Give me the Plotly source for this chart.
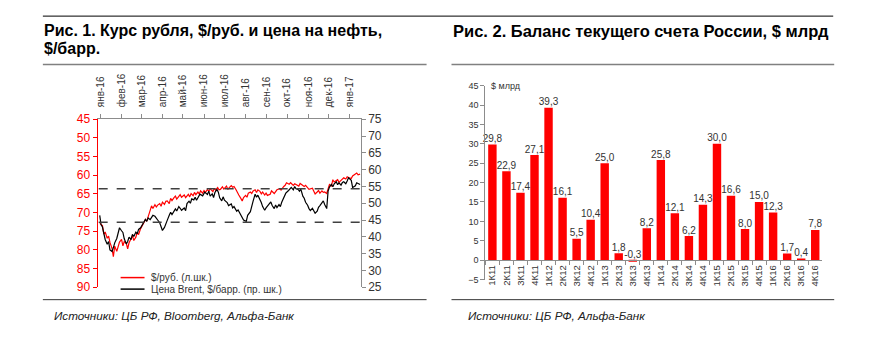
import plotly.graph_objects as go

W, H = 896, 346
def px(x): return x / W
def py(y): return 1 - y / H

# ---------------- Data: Fig. 1 ----------------
rub_dates = ["2015-12-31","2016-01-04","2016-01-06","2016-01-08","2016-01-11","2016-01-13","2016-01-15","2016-01-18","2016-01-20","2016-01-22",
"2016-01-25","2016-01-27","2016-01-29","2016-02-01","2016-02-03","2016-02-05","2016-02-08","2016-02-10","2016-02-12","2016-02-15",
"2016-02-17","2016-02-19","2016-02-22","2016-02-24","2016-02-26","2016-02-29","2016-03-02","2016-03-04","2016-03-07","2016-03-09",
"2016-03-11","2016-03-14","2016-03-16","2016-03-18","2016-03-21","2016-03-23","2016-03-25","2016-03-28","2016-03-30","2016-04-01",
"2016-04-04","2016-04-06","2016-04-08","2016-04-11","2016-04-13","2016-04-15","2016-04-18","2016-04-20","2016-04-22","2016-04-25",
"2016-04-27","2016-04-29","2016-05-03","2016-05-05","2016-05-09","2016-05-11","2016-05-13","2016-05-16","2016-05-18","2016-05-20",
"2016-05-23","2016-05-25","2016-05-27","2016-05-30","2016-06-01","2016-06-03","2016-06-06","2016-06-08","2016-06-10","2016-06-14",
"2016-06-16","2016-06-18","2016-06-21","2016-06-23","2016-06-25","2016-06-28","2016-06-30","2016-07-04","2016-07-06","2016-07-08",
"2016-07-11","2016-07-13","2016-07-15","2016-07-18","2016-07-20","2016-07-22","2016-07-25","2016-07-27","2016-07-29","2016-08-01",
"2016-08-03","2016-08-05","2016-08-08","2016-08-10","2016-08-12","2016-08-15","2016-08-17","2016-08-19","2016-08-22","2016-08-24",
"2016-08-26","2016-08-29","2016-08-31","2016-09-02","2016-09-06","2016-09-08","2016-09-12","2016-09-14","2016-09-16","2016-09-20",
"2016-09-22","2016-09-26","2016-09-28","2016-09-30","2016-10-04","2016-10-06","2016-10-10","2016-10-12","2016-10-14","2016-10-18",
"2016-10-20","2016-10-24","2016-10-26","2016-10-28","2016-10-31","2016-11-02","2016-11-07","2016-11-09","2016-11-11","2016-11-14",
"2016-11-16","2016-11-18","2016-11-21","2016-11-23","2016-11-25","2016-11-28","2016-11-30","2016-12-02","2016-12-05","2016-12-07",
"2016-12-09","2016-12-12","2016-12-14","2016-12-16","2016-12-19","2016-12-21","2016-12-23","2016-12-26","2016-12-28","2016-12-30",
"2017-01-03","2017-01-05","2017-01-09","2017-01-11","2017-01-13","2017-01-16"]
rub_values = [72.9,73.5,75.8,75.2,76.9,76.3,78.0,79.6,81.8,79.0,
80.4,78.7,77.9,77.2,78.9,77.8,78.3,79.7,78.1,77.0,
76.2,77.5,76.6,75.3,75.9,74.3,73.5,72.9,71.9,72.3,
70.9,69.4,68.2,68.9,67.9,68.5,68.0,67.6,68.3,67.2,
67.8,67.0,66.9,67.6,66.2,66.8,66.0,65.6,66.4,65.7,
65.2,65.9,65.3,66.0,65.1,65.8,64.9,65.5,64.6,65.2,
64.5,65.0,64.2,64.8,64.1,64.6,63.8,64.3,63.6,64.4,
63.5,64.0,63.3,63.9,63.8,63.1,63.7,62.9,63.8,63.3,
62.8,63.2,63.0,63.9,64.7,65.3,66.2,66.9,66.0,65.4,
65.9,64.8,64.5,64.9,64.2,63.9,64.6,63.9,64.3,65.0,
64.5,65.3,64.8,65.4,65.1,64.2,64.9,64.4,63.9,63.6,
64.0,63.0,62.7,62.0,62.4,62.0,62.7,62.3,62.5,62.9,
62.2,62.6,63.0,62.7,63.3,63.8,63.5,64.2,65.0,64.5,
64.1,64.8,64.2,64.6,64.5,64.9,63.8,62.5,62.9,61.2,
61.8,61.5,61.2,61.9,61.3,60.9,60.7,61.0,60.4,60.6,
60.9,60.2,59.6,59.4,59.9,59.7]

brent_dates = ["2015-12-31","2016-01-02","2016-01-04","2016-01-06","2016-01-08","2016-01-11","2016-01-13","2016-01-15","2016-01-18","2016-01-20",
"2016-01-22","2016-01-25","2016-01-27","2016-01-29","2016-02-01","2016-02-03","2016-02-05","2016-02-08","2016-02-10","2016-02-12",
"2016-02-15","2016-02-17","2016-02-19","2016-02-22","2016-02-24","2016-02-26","2016-02-29","2016-03-02","2016-03-04","2016-03-07",
"2016-03-09","2016-03-11","2016-03-14","2016-03-16","2016-03-18","2016-03-21","2016-03-23","2016-03-25","2016-03-28","2016-03-30",
"2016-04-01","2016-04-04","2016-04-06","2016-04-08","2016-04-11","2016-04-13","2016-04-15","2016-04-18","2016-04-20","2016-04-22",
"2016-04-25","2016-04-27","2016-04-29","2016-05-03","2016-05-05","2016-05-07","2016-05-10","2016-05-12","2016-05-14","2016-05-17",
"2016-05-19","2016-05-21","2016-05-24","2016-05-26","2016-05-30","2016-06-02","2016-06-06","2016-06-08","2016-06-10","2016-06-13",
"2016-06-15","2016-06-17","2016-06-20","2016-06-22","2016-06-24","2016-06-27","2016-06-29","2016-07-01","2016-07-05","2016-07-07",
"2016-07-11","2016-07-13","2016-07-15","2016-07-19","2016-07-21","2016-07-25","2016-07-27","2016-07-29","2016-08-02","2016-08-04",
"2016-08-08","2016-08-10","2016-08-12","2016-08-15","2016-08-17","2016-08-19","2016-08-22","2016-08-24","2016-08-26","2016-08-29",
"2016-08-31","2016-09-02","2016-09-05","2016-09-07","2016-09-09","2016-09-12","2016-09-14","2016-09-16","2016-09-19","2016-09-21",
"2016-09-23","2016-09-27","2016-09-29","2016-10-03","2016-10-05","2016-10-07","2016-10-10","2016-10-12","2016-10-14","2016-10-17",
"2016-10-19","2016-10-21","2016-10-24","2016-10-26","2016-10-28","2016-10-31","2016-11-02","2016-11-04","2016-11-07","2016-11-09",
"2016-11-11","2016-11-14","2016-11-16","2016-11-18","2016-11-21","2016-11-23","2016-11-25","2016-11-28","2016-11-30","2016-12-02",
"2016-12-05","2016-12-07","2016-12-09","2016-12-12","2016-12-14","2016-12-16","2016-12-19","2016-12-21","2016-12-23","2016-12-26",
"2016-12-28","2016-12-30","2017-01-03","2017-01-05","2017-01-09","2017-01-11","2017-01-13","2017-01-16"]
brent_values = [46.4,43.6,42.9,40.5,39.2,37.8,38.6,36.1,35.6,36.8,
38.2,39.5,41.3,42.7,41.8,41.3,39.4,37.9,38.6,39.9,
39.2,40.7,40.1,41.4,40.9,42.2,42.7,43.5,44.1,45.2,
44.6,45.6,45.1,45.9,46.4,46.1,45.7,45.0,44.2,43.0,
41.9,42.8,43.6,44.9,46.4,47.3,46.6,47.6,48.3,47.7,
49.0,48.5,47.9,48.6,47.8,49.9,50.6,50.0,51.3,51.0,
51.8,50.9,51.9,52.7,52.2,53.3,52.6,53.6,52.1,52.8,
51.7,53.2,54.1,53.3,51.6,50.7,51.9,50.9,50.2,49.3,
49.8,48.6,49.0,47.6,48.0,46.6,45.5,45.0,44.6,46.4,
47.5,49.3,50.6,52.7,51.8,52.4,51.3,50.2,49.0,47.9,
48.6,49.2,49.9,50.4,49.3,48.4,49.5,48.7,49.6,49.0,
50.3,52.1,53.0,53.8,54.4,54.7,54.0,55.0,54.3,54.1,
53.6,54.2,52.1,51.5,50.3,49.4,48.4,47.8,48.5,47.6,
47.0,47.6,48.8,49.3,50.2,50.7,49.6,48.4,53.6,54.8,
55.6,54.9,55.8,56.4,55.5,56.1,55.4,56.2,56.4,55.8,
56.6,57.6,56.8,54.7,55.2,56.1,55.9,55.6]

month_ticks = ["2016-01-01","2016-02-01","2016-03-01","2016-04-01","2016-05-01","2016-06-01","2016-07-01",
               "2016-08-01","2016-09-01","2016-10-01","2016-11-01","2016-12-01","2017-01-01"]
month_labels = ["янв-16","фев-16","мар-16","апр-16","май-16","июн-16","июл-16",
                "авг-16","сен-16","окт-16","ноя-16","дек-16","янв-17"]
brent_ref_levels = [54.3, 44.3]

# ---------------- Data: Fig. 2 ----------------
quarters = ["1К11","2К11","3К11","4К11","1К12","2К12","3К12","4К12","1К13","2К13","3К13","4К13",
            "1К14","2К14","3К14","4К14","1К15","2К15","3К15","4К15","1К16","2К16","3К16","4К16"]
balance = [29.8,22.9,17.4,27.1,39.3,16.1,5.5,10.4,25.0,1.8,-0.3,8.2,
           25.8,12.1,6.2,14.3,30.0,16.6,8.0,15.0,12.3,1.7,0.4,7.8]

FONT = "Liberation Sans, Arial, sans-serif"
RED = "#FF0000"
GREY = "#8C8C8C"
TXT = "#333333"

fig = go.Figure()

fig.add_trace(go.Scatter(x=rub_dates, y=rub_values, mode="lines",
                         line=dict(color=RED, width=1.2), xaxis="x", yaxis="y",
                         showlegend=False))
fig.add_trace(go.Scatter(x=brent_dates, y=brent_values, mode="lines",
                         line=dict(color="#000000", width=1.2), xaxis="x", yaxis="y2",
                         showlegend=False))

fig.add_trace(go.Bar(x=quarters, y=balance, marker=dict(color=RED, line=dict(width=0)),
                     xaxis="x2", yaxis="y3", showlegend=False))
fig.add_trace(go.Scatter(x=quarters, y=[max(v, 0) for v in balance], mode="text",
                         text=[f"{v:.1f}".replace(".", ",") for v in balance],
                         textposition="top center",
                         textfont=dict(size=10, color=TXT, family=FONT),
                         xaxis="x2", yaxis="y3", showlegend=False, cliponaxis=False))

shapes = []
for lvl in brent_ref_levels:
    shapes.append(dict(type="line", xref="paper", yref="y2", x0=px(96), x1=px(359), y0=lvl, y1=lvl,
                       line=dict(color="#404040", width=1.5, dash="dash")))
# rules
shapes += [
    dict(type="line", xref="paper", yref="paper", x0=px(40), x1=px(833), y0=py(9.5), y1=py(9.5),
         line=dict(color="#000000", width=1)),
    dict(type="line", xref="paper", yref="paper", x0=px(40), x1=px(425), y0=py(60), y1=py(60),
         line=dict(color="#808080", width=1.5)),
    dict(type="line", xref="paper", yref="paper", x0=px(450), x1=px(834), y0=py(60), y1=py(60),
         line=dict(color="#808080", width=1.5)),
    dict(type="line", xref="paper", yref="paper", x0=px(40), x1=px(425), y0=py(305), y1=py(305),
         line=dict(color="#333333", width=1)),
    dict(type="line", xref="paper", yref="paper", x0=px(450), x1=px(834), y0=py(305), y1=py(305),
         line=dict(color="#333333", width=1)),
    # legend samples
    dict(type="line", xref="paper", yref="paper", x0=px(118), x1=px(142), y0=py(282), y1=py(282),
         line=dict(color=RED, width=1.5)),
    dict(type="line", xref="paper", yref="paper", x0=px(118), x1=px(142), y0=py(294), y1=py(294),
         line=dict(color="#000000", width=1.5)),
]

annotations = [
    dict(text="<b>Рис. 1. Курс рубля, $/руб. и цена на нефть,</b>", x=px(39), y=py(25),
         xanchor="left", yanchor="middle", font=dict(size=16, color="#000000", family=FONT)),
    dict(text="<b>$/барр.</b>", x=px(39), y=py(43),
         xanchor="left", yanchor="middle", font=dict(size=16, color="#000000", family=FONT)),
    dict(text="<b>Рис. 2. Баланс текущего счета России, $ млрд</b>", x=px(450), y=py(25),
         xanchor="left", yanchor="middle", font=dict(size=16.5, color="#000000", family=FONT)),
    dict(text="$/руб. (л.шк.)", x=px(146), y=py(282), xanchor="left", yanchor="middle",
         font=dict(size=10, color=TXT, family=FONT)),
    dict(text="Цена Brent, $/барр. (пр. шк.)", x=px(146), y=py(294), xanchor="left", yanchor="middle",
         font=dict(size=10, color=TXT, family=FONT)),
    dict(text="<i>Источники: ЦБ РФ, Bloomberg, Альфа-Банк</i>", x=px(49), y=py(321),
         xanchor="left", yanchor="middle", font=dict(size=11.7, color="#222222", family=FONT)),
    dict(text="<i>Источники: ЦБ РФ, Альфа-Банк</i>", x=px(465), y=py(321),
         xanchor="left", yanchor="middle", font=dict(size=11.7, color="#222222", family=FONT)),
    dict(text="$ млрд", x=px(488), y=py(82), xanchor="left", yanchor="middle",
         font=dict(size=9, color=TXT, family=FONT)),
]
for a in annotations:
    a.update(xref="paper", yref="paper", showarrow=False)

fig.update_layout(
    width=W, height=H, margin=dict(l=0, r=0, t=0, b=0),
    paper_bgcolor="white", plot_bgcolor="white",
    font=dict(family=FONT, color=TXT),
    bargap=0.4,
    shapes=shapes, annotations=annotations,
    xaxis=dict(domain=[px(95), px(359)], anchor="y", side="top", type="date",
               range=["2015-12-28", "2017-01-17"],
               tickmode="array", tickvals=month_ticks, ticktext=month_labels, tickangle=-90,
               tickfont=dict(size=10, color=TXT, family=FONT), ticklabelstandoff=5,
               showline=True, linecolor=GREY, linewidth=1, ticks="outside", ticklen=4,
               tickcolor=GREY, showgrid=False, zeroline=False),
    yaxis=dict(domain=[py(292), py(117)], anchor="x", range=[90, 45], dtick=5, tick0=45,
               tickfont=dict(size=12, color=RED, family=FONT),
               showline=True, linecolor=RED, linewidth=1.2, ticks="outside", ticklen=4,
               tickcolor=RED, showgrid=False, zeroline=False),
    yaxis2=dict(overlaying="y", anchor="x", side="right", range=[25, 75], dtick=5,
                tickfont=dict(size=12, color=TXT, family=FONT),
                showline=True, linecolor=GREY, linewidth=1, ticks="outside", ticklen=4,
                tickcolor=GREY, showgrid=False, zeroline=False),
    xaxis2=dict(domain=[px(484), px(822)], anchor="free", position=py(264),
                type="category", range=[-0.5, 23.5], tickangle=-90,
                tickfont=dict(size=9.5, color=TXT, family=FONT),
                showline=True, linecolor=GREY, linewidth=1, ticks="outside", ticklen=4,
                tickcolor=GREY, tickson="boundaries", showgrid=False, zeroline=False),
    yaxis3=dict(domain=[py(284), py(82)], anchor="x2", range=[-5, 45], dtick=5,
                tickfont=dict(size=9, color=TXT, family=FONT),
                showline=True, linecolor=GREY, linewidth=1, ticks="outside", ticklen=4,
                tickcolor=GREY, showgrid=False, zeroline=False),
)

fig.write_html("out.html")
